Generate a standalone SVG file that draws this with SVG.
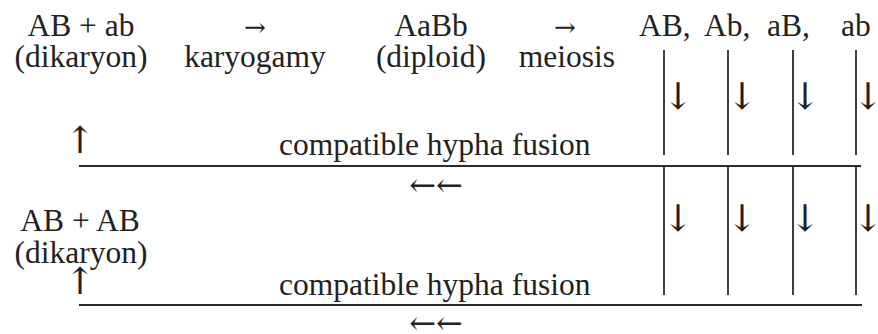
<svg xmlns="http://www.w3.org/2000/svg" width="878" height="334" viewBox="0 0 878 334">
<style>
text{font-family:"Liberation Serif","Times New Roman",serif;font-size:31.5px;fill:#222;}
.m{text-anchor:middle;}
.ar{font-family:"DejaVu Serif","DejaVu Sans",serif;font-size:32px;}
.v{font-family:"DejaVu Serif","DejaVu Sans",serif;font-size:37px;}
.sm{font-family:"DejaVu Serif","DejaVu Sans",serif;font-size:26px;}
.ln{stroke:#2a2a2a;stroke-width:1.8;fill:none;}
</style>
<rect width="878" height="334" fill="#fff"/>
<g id="connectors">
<line class="ln" x1="79" y1="166" x2="861" y2="166"/>
<line class="ln" x1="79" y1="305" x2="862" y2="305"/>
<line class="ln" x1="664" y1="50" x2="664" y2="155"/>
<line class="ln" x1="728" y1="50" x2="728" y2="155"/>
<line class="ln" x1="793" y1="50" x2="793" y2="155"/>
<line class="ln" x1="856" y1="50" x2="856" y2="155"/>
<line class="ln" x1="664" y1="166" x2="664" y2="295"/>
<line class="ln" x1="728" y1="166" x2="728" y2="295"/>
<line class="ln" x1="793" y1="166" x2="793" y2="295"/>
<line class="ln" x1="856" y1="166" x2="856" y2="295"/>
</g>
<g id="dikaryon1">
<text class="m" x="81" y="36">AB + ab</text>
<text class="m" x="81" y="67">(dikaryon)</text>
</g>
<g id="karyogamy">
<text class="m sm" x="255" y="36">→</text>
<text class="m" x="255" y="67">karyogamy</text>
</g>
<g id="diploid">
<text class="m" x="431" y="36">AaBb</text>
<text class="m" x="431" y="67">(diploid)</text>
</g>
<g id="meiosis">
<text class="m sm" x="565" y="36">→</text>
<text class="m" x="567" y="67">meiosis</text>
</g>
<g id="spores">
<text x="639" y="36">AB,</text>
<text x="704" y="36">Ab,</text>
<text x="767" y="36">aB,</text>
<text x="841" y="36">ab</text>
</g>
<g id="arrows-top">
<text class="m v" x="678" y="109">↓</text>
<text class="m v" x="742" y="109">↓</text>
<text class="m v" x="805" y="109">↓</text>
<text class="m v" x="868" y="109">↓</text>
<text class="m v" x="80" y="153">↑</text>
</g>
<g id="fusion1">
<text x="279" y="155">compatible hypha fusion</text>
<text class="m ar" x="436" y="196">←←</text>
</g>
<g id="arrows-mid">
<text class="m v" x="678" y="231">↓</text>
<text class="m v" x="742" y="231">↓</text>
<text class="m v" x="805" y="231">↓</text>
<text class="m v" x="868" y="231">↓</text>
</g>
<g id="dikaryon2">
<text class="m" x="80" y="231">AB + AB</text>
<text class="m" x="81" y="263">(dikaryon)</text>
<text class="m v" x="80" y="294">↑</text>
</g>
<g id="fusion2">
<text x="279" y="295">compatible hypha fusion</text>
<text class="m ar" x="436" y="334">←←</text>
</g>
</svg>
